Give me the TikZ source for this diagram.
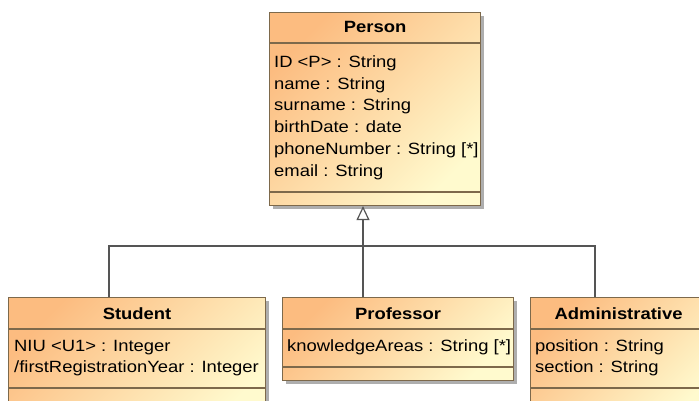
\documentclass[tikz,border=0pt]{standalone}
\usepackage{fontspec}
\setmainfont[FakeStretch=1.13]{Liberation Sans}
\usetikzlibrary{arrows.meta,shadows}
\definecolor{classorange}{RGB}{252,188,128}
\definecolor{classyellow}{RGB}{255,250,206}
\definecolor{classedge}{RGB}{125,105,75}
\definecolor{genline}{RGB}{85,85,85}
\newcommand{\cf}{\fontsize{16.3}{21.7}\selectfont}

\begin{document}
\begin{tikzpicture}[x=1pt,y=-1pt,
  classbox/.style={draw=classedge, line width=1.1pt, anchor=north west, inner sep=0pt,
    top color=classorange, bottom color=classyellow, shading angle=45,
    drop shadow={shadow xshift=3pt,shadow yshift=-3pt,fill=black!45,opacity=.7}},
  title/.style={anchor=base, inner sep=0pt, font=\cf\bfseries},
  attr/.style={anchor=base west, inner sep=0pt, font=\cf},
  compline/.style={draw=classedge, line width=1.1pt},
  gen/.style={draw=genline, line width=1.2pt}]
   \clip (0,0) rectangle (699,401);

   % classes
   \node[classbox, minimum width=211pt, minimum height=193pt] (person)    at (269, 12) {};
   \node[classbox, minimum width=257pt, minimum height=130pt] (student)   at (  8,297) {};
   \node[classbox, minimum width=231pt, minimum height= 83pt] (professor) at (282,297) {};
   \node[classbox, minimum width=176pt, minimum height=130pt] (admin)     at (530,297) {};

   % compartments
   \draw[compline] (person.west |- 0, 43) -- (person.east |- 0, 43);
   \draw[compline] (person.west |- 0,192) -- (person.east |- 0,192);
   \foreach \cls/\ysep in {student/388, professor/367, admin/388} {
     \draw[compline] (\cls.west |- 0,329) -- (\cls.east |- 0,329);
     \draw[compline] (\cls.west |- 0,\ysep) -- (\cls.east |- 0,\ysep);
   }

   % names
   \node[title] (persontitle)    at (person.north    |- 0, 33) {Person};
   \node[title] (studenttitle)   at (student.north   |- 0,319) {Student};
   \node[title] (professortitle) at (professor.north |- 0,319) {Professor};
   \node[title] (admintitle)     at (admin.north     |- 0,319) {Administrative};

   % attributes
   \foreach \txt [count=\i] in {ID <P> : String, name : String, surname : String,
       birthDate : date, phoneNumber : String [*], email : String}
     \node[attr] (pattr\i) at (274, 67.5+21.7*\i-21.7) {\txt};
   \foreach \txt [count=\i] in {NIU <U1> : Integer, /firstRegistrationYear : Integer}
     \node[attr] (sattr\i) at ( 14, 351+21.7*\i-21.7) {\txt};
   \node[attr] (kattr1) at (287,351) {knowledgeAreas : String [*]};
   \foreach \txt [count=\i] in {position : String, section : String}
     \node[attr] (aattr\i) at (535, 351+21.7*\i-21.7) {\txt};

   % generalisation
   \coordinate (fork) at (363,246);
   \draw[gen, -{Triangle[open, length=14pt, width=13pt]}]
      (professor.north -| fork) -- (person.south -| fork);
   \draw[gen] ([xshift=101pt]student.north west) |- (fork) -| ([xshift=65pt]admin.north west);
\end{tikzpicture}
\end{document}
